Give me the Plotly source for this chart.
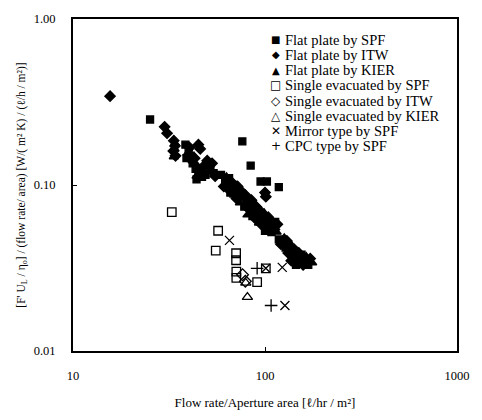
import plotly.graph_objects as go

# Flat plate by SPF (filled squares)
spf_x = [25.2, 76.2, 84.2, 94.8, 102.3, 118,
         38.5, 40, 41, 39, 42, 43.5, 45, 47, 44, 49, 52, 54,
         59, 62, 65, 68, 70, 66, 73, 76, 80, 78, 84, 88, 86, 92, 95, 98, 102, 105, 110, 100, 113, 108,
         118, 124, 128, 135, 140, 148, 155, 160, 168, 145]
spf_y = [0.248, 0.183, 0.131, 0.105, 0.105, 0.097,
         0.175, 0.16, 0.15, 0.145, 0.135, 0.125, 0.118, 0.112, 0.108, 0.115, 0.125, 0.118,
         0.115, 0.105, 0.11, 0.1, 0.093, 0.09, 0.088, 0.085, 0.08, 0.074, 0.075, 0.07, 0.065, 0.066, 0.06, 0.063, 0.058, 0.055, 0.057, 0.053, 0.06, 0.052,
         0.047, 0.045, 0.042, 0.04, 0.037, 0.036, 0.038, 0.035, 0.033, 0.033]

# Flat plate by ITW (filled diamonds)
itw_x = [15.6, 30.0, 30.9, 33.5, 34, 33.3, 34.2, 100, 101,
         45, 46, 40.5, 43, 48, 50, 53, 46, 55,
         61, 64, 67, 72, 75, 71, 79, 82, 85, 90, 94, 90, 97, 104, 112, 116,
         121, 130, 132, 142, 150, 158, 172, 137]
itw_y = [0.343, 0.224, 0.205, 0.185, 0.172, 0.16, 0.15, 0.09, 0.085,
         0.175, 0.165, 0.168, 0.145, 0.13, 0.14, 0.135, 0.12, 0.113,
         0.098, 0.095, 0.104, 0.098, 0.092, 0.083, 0.087, 0.072, 0.081, 0.074, 0.07, 0.062, 0.057, 0.064, 0.054, 0.058,
         0.044, 0.046, 0.039, 0.041, 0.039, 0.033, 0.036, 0.035]

# Flat plate by KIER (filled triangles)
kier_x = [33.8, 33.5, 34, 39.5, 42, 44.5, 47, 51, 44,
          63, 69, 74, 77, 81, 87, 93, 99, 106, 115,
          126, 138, 152, 164, 176]
kier_y = [0.165, 0.148, 0.178, 0.155, 0.14, 0.13, 0.125, 0.12, 0.113,
          0.112, 0.087, 0.078, 0.09, 0.066, 0.077, 0.059, 0.068, 0.06, 0.052,
          0.048, 0.043, 0.034, 0.037, 0.034]

# Single evacuated by SPF (open squares)
sev_spf_x = [32.7, 57.0, 55.4, 70.7, 70.7, 70.9, 70.9, 91.0, 101]
sev_spf_y = [0.0687, 0.053, 0.0402, 0.0388, 0.0352, 0.0301, 0.0276, 0.026, 0.0315]

# Single evacuated by ITW (open diamonds)
sev_itw_x = [76.4, 79]
sev_itw_y = [0.0288, 0.0263]

# Single evacuated by KIER (open triangles)
sev_kier_x = [79.4, 81]
sev_kier_y = [0.0257, 0.0211]

# Mirror type by SPF (x)
mir_x = [65.3, 101, 123, 127]
mir_y = [0.0464, 0.0315, 0.0319, 0.0188]

# CPC type by SPF (+)
cpc_x = [91, 107.6]
cpc_y = [0.0315, 0.0188]

names = ["Flat plate by SPF", "Flat plate by ITW", "Flat plate by KIER",
         "Single evacuated by SPF", "Single evacuated by ITW", "Single evacuated by KIER",
         "Mirror type by SPF", "CPC type by SPF"]
legend_glyphs = ["■", "◆", "▲", "□", "◇", "△", "✕", "+"]

series = [
    (spf_x, spf_y, "square", 7),
    (itw_x, itw_y, "diamond", 8),
    (kier_x, kier_y, "triangle-up", 8),
    (sev_spf_x, sev_spf_y, "square-open", 8.5),
    (sev_itw_x, sev_itw_y, "diamond-open", 9),
    (sev_kier_x, sev_kier_y, "triangle-up-open", 9),
    (mir_x, mir_y, "x-thin-open", 9),
    (cpc_x, cpc_y, "cross-thin-open", 9),
]

fig = go.Figure()
for (xs, ys, sym, sz), nm in zip(series, names):
    fig.add_trace(go.Scatter(
        x=xs, y=ys, mode="markers", name=nm,
        marker=dict(symbol=sym, size=sz, color="black",
                    line=dict(color="black", width=1.3)),
    ))

font_family = "Liberation Serif, DejaVu Serif, serif"

# legend drawn as text: plot area spans px 73..467 (x) and 13..358 (y)
L, R, T, B = 73, 467, 13, 358
annotations = []
for i, (g, nm) in enumerate(zip(legend_glyphs, names)):
    py = 34.5 + i * 15.8
    yp = (B - py) / (B - T)
    annotations.append(dict(
        x=(281 - L) / (R - L), y=yp, xref="paper", yref="paper",
        text=g, showarrow=False, xanchor="center", yanchor="middle",
        font=dict(family="DejaVu Sans", size=10 if i < 3 else 12, color="black")))
    annotations.append(dict(
        x=(288 - L) / (R - L), y=yp, xref="paper", yref="paper",
        text=nm, showarrow=False, xanchor="left", yanchor="middle",
        font=dict(family=font_family, size=14.5, color="black")))

fig.update_layout(
    width=482, height=420,
    margin=dict(l=L, r=482 - R, t=T, b=420 - B),
    paper_bgcolor="white", plot_bgcolor="white",
    font=dict(family=font_family, color="black", size=12),
    showlegend=False,
    annotations=annotations,
    xaxis=dict(type="log", range=[1, 3],
               tickvals=[10, 100, 1000], ticktext=["10", "100", "1000"],
               ticks="inside", ticklen=4, tickcolor="black",
               showline=True, linecolor="black", linewidth=2, mirror=True,
               showgrid=False, zeroline=False,
               tickfont=dict(size=12.5), ticklabelstandoff=12,
               title=dict(text="Flow rate/Aperture area [ℓ/hr / m²]",
                          font=dict(size=13), standoff=16)),
    yaxis=dict(type="log", range=[-2, 0],
               tickvals=[0.01, 0.1, 1.0], ticktext=["0.01", "0.10", "1.00"],
               ticks="inside", ticklen=4, tickcolor="black",
               showline=True, linecolor="black", linewidth=2, mirror=True,
               showgrid=False, zeroline=False,
               tickfont=dict(size=12.5), ticklabelstandoff=13,
               title=dict(text="[F' U<sub>L</sub> / η<sub>o</sub>] / (flow rate/ area) [W/( m² K) / (ℓ/h / m²)]",
                          font=dict(size=11.5), standoff=6)),
)

fig.write_html("out.html")
